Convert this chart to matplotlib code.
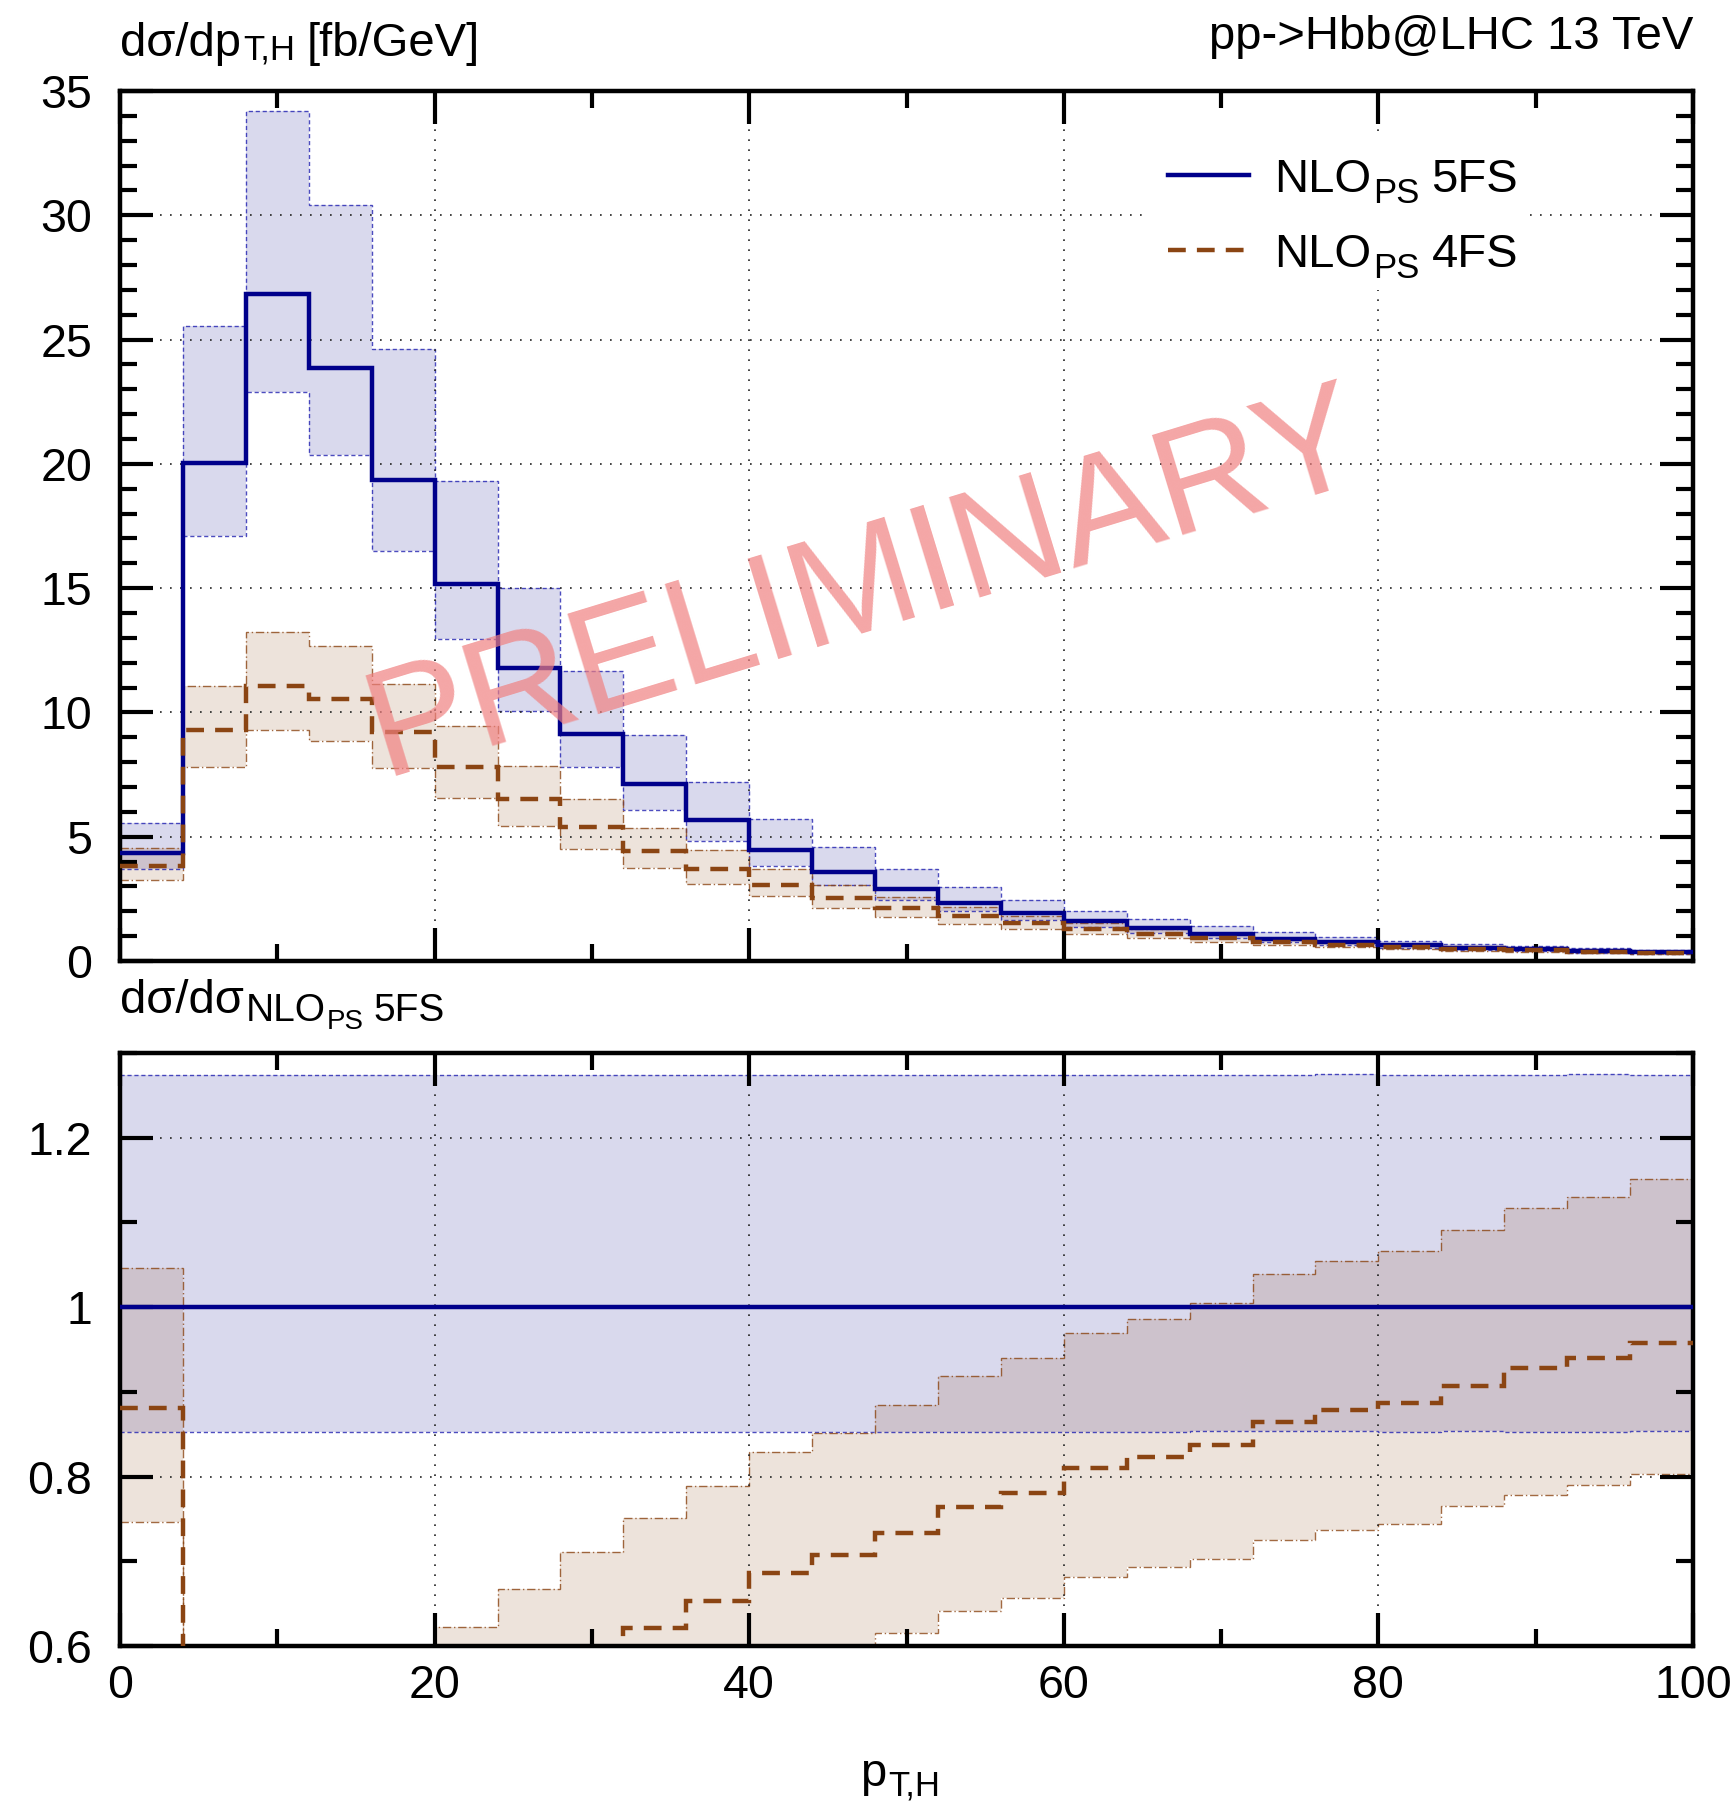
import numpy as np
import matplotlib

matplotlib.use("Agg")
import matplotlib.pyplot as plt
from matplotlib.patches import Rectangle
from matplotlib.ticker import MultipleLocator, FuncFormatter

plt.rcParams["font.family"] = ["Liberation Sans", "DejaVu Sans"]

# --- data ---
pt_edges = [0, 4, 8, 12, 16, 20, 24, 28, 32, 36, 40, 44, 48, 52, 56, 60,
            64, 68, 72, 76, 80, 84, 88, 92, 96, 100]

# NLO_PS 5FS: central, upper and lower scale-band edges [fb/GeV]
nlo5_c = [4.35, 20.04, 26.85, 23.86, 19.34, 15.17, 11.79, 9.15, 7.14, 5.66,
          4.48, 3.60, 2.89, 2.35, 1.94, 1.59, 1.32, 1.09, 0.90, 0.75,
          0.63, 0.54, 0.47, 0.40, 0.35]
nlo5_hi = [5.542, 25.531, 34.207, 30.398, 24.639, 19.327, 15.020, 11.657, 9.096, 7.211,
           5.708, 4.586, 3.682, 2.994, 2.472, 2.026, 1.682, 1.389, 1.147, 0.956,
           0.803, 0.688, 0.599, 0.510, 0.446]
nlo5_lo = [3.711, 17.094, 22.903, 20.353, 16.497, 12.940, 10.057, 7.805, 6.090, 4.828,
           3.821, 3.071, 2.465, 2.005, 1.655, 1.356, 1.126, 0.930, 0.768, 0.640,
           0.537, 0.461, 0.401, 0.341, 0.299]

# NLO_PS 4FS
nlo4_c = [3.832, 9.28, 11.07, 10.55, 9.21, 7.81, 6.51, 5.39, 4.434, 3.696,
          3.073, 2.545, 2.118, 1.795, 1.515, 1.289, 1.086, 0.912, 0.778, 0.659,
          0.559, 0.490, 0.436, 0.376, 0.335]
nlo4_hi = [4.550, 11.07, 13.23, 12.67, 11.13, 9.451, 7.864, 6.506, 5.362, 4.466,
           3.714, 3.064, 2.555, 2.160, 1.824, 1.542, 1.302, 1.095, 0.935, 0.791,
           0.672, 0.589, 0.525, 0.452, 0.403]
nlo4_lo = [3.249, 7.82, 9.28, 8.84, 7.75, 6.56, 5.44, 4.52, 3.73, 3.08,
           2.61, 2.113, 1.780, 1.506, 1.275, 1.084, 0.915, 0.766, 0.653, 0.553,
           0.469, 0.413, 0.366, 0.316, 0.281]

NAVY = "#00008b"
BROWN = "#8b4513"
FS = 34
SUB = 25
TICK_FS = 33.5
W, H = 1732, 1805
DASH = (0, (4, 2.5))

fig = plt.figure(figsize=(W / 100, H / 100), dpi=100)
renderer = fig.canvas.get_renderer()


def rich_text(x, y, parts, ha="left"):
    """parts: (text, size, drop_px, gap_px); x, y in image pixels, y = baseline from top."""
    items = []
    for s, size, drop, gap in parts:
        t = fig.text(0, 0, s, fontsize=size, va="baseline", ha="left")
        w = t.get_window_extent(renderer).width
        items.append((t, drop, gap, w))
    total = sum(gap + w for _, _, gap, w in items)
    x0 = {"left": x, "center": x - total / 2, "right": x - total}[ha]
    for t, drop, gap, w in items:
        x0 += gap
        t.set_position((x0 / W, 1 - (y + drop) / H))
        x0 += w


def style_axes(ax, ymajor, yminor):
    ax.xaxis.set_major_locator(MultipleLocator(20))
    ax.xaxis.set_minor_locator(MultipleLocator(10))
    ax.yaxis.set_major_locator(MultipleLocator(ymajor))
    ax.yaxis.set_minor_locator(MultipleLocator(yminor))
    ax.tick_params(which="both", direction="in", top=True, right=True,
                   width=3, labelsize=TICK_FS)
    ax.tick_params(which="major", length=24)
    ax.tick_params(which="minor", length=12)
    ax.tick_params(axis="y", pad=20)
    ax.tick_params(axis="x", pad=13)
    for sp in ax.spines.values():
        sp.set_linewidth(3.2)
    ax.grid(True, which="major", color="#222222", lw=1.2,
            linestyle=(0, (1, 5)), zorder=2)
    ax.yaxis.set_major_formatter(FuncFormatter(lambda v, p: f"{v:g}"))


def draw_set(ax, c5, hi5, lo5, c4, hi4, lo4):
    ax.stairs(hi5, pt_edges, baseline=lo5, fill=True, color=NAVY,
              alpha=0.15, lw=0, zorder=1)
    ax.stairs(hi4, pt_edges, baseline=lo4, fill=True, color=BROWN,
              alpha=0.15, lw=0, zorder=1.1)
    for v in (hi5, lo5):
        ax.stairs(v, pt_edges, baseline=None, color="#2020b0", lw=1.0,
                  linestyle=(0, (3, 2)), alpha=0.8, zorder=1.5)
    for v in (hi4, lo4):
        ax.stairs(v, pt_edges, baseline=None, color=BROWN, lw=1.0,
                  linestyle=(0, (6, 2, 1, 2)), alpha=0.8, zorder=1.5)
    ax.stairs(c5, pt_edges, baseline=None, color=NAVY, lw=3.2, zorder=4)
    ax.stairs(c4, pt_edges, baseline=None, color=BROWN, lw=3.2,
              linestyle=DASH, zorder=5)


AX_L, AX_R = 120, 1693
TOP_T, TOP_B = 91, 961
BOT_T, BOT_B = 1053, 1646
ax1 = fig.add_axes([AX_L / W, 1 - TOP_B / H, (AX_R - AX_L) / W, (TOP_B - TOP_T) / H])
ax2 = fig.add_axes([AX_L / W, 1 - BOT_B / H, (AX_R - AX_L) / W, (BOT_B - BOT_T) / H])

# main panel
draw_set(ax1, nlo5_c, nlo5_hi, nlo5_lo, nlo4_c, nlo4_hi, nlo4_lo)
ax1.set_xlim(0, 100)
ax1.set_ylim(0, 35)
style_axes(ax1, 5, 1)
ax1.tick_params(labelbottom=False)


# legend, laid out by hand on a white box
def ax1_frac(px, py):
    return (px - AX_L) / (AX_R - AX_L), (TOP_B - py) / (TOP_B - TOP_T)


bx0, by0 = ax1_frac(1142, 290)
bx1, by1 = ax1_frac(1530, 135)
ax1.add_patch(Rectangle((bx0, by0), bx1 - bx0, by1 - by0, transform=ax1.transAxes,
                        facecolor="white", edgecolor="none", zorder=3))
for row_y, color, ls, lab in [(175, NAVY, "-", "5FS"), (250, BROWN, DASH, "4FS")]:
    xa, ya = ax1_frac(1168, row_y)
    xb, _ = ax1_frac(1249, row_y)
    ax1.plot([xa, xb], [ya, ya], transform=ax1.transAxes, color=color, lw=3.2,
             linestyle=ls, zorder=6, clip_on=False)
    rich_text(1274, row_y + 17, [("NLO", FS, 0, 0), ("PS", SUB, 11, 2), (lab, FS, 0, 12)])

# watermark
ax1.text(47.4, 15.0, "PRELIMINARY", rotation=17, rotation_mode="anchor",
         ha="center", va="center", fontsize=110, color="#f08080", alpha=0.7,
         zorder=10)

# ratio panel
c5 = np.array(nlo5_c)
draw_set(ax2, c5 / c5, np.array(nlo5_hi) / c5, np.array(nlo5_lo) / c5,
         np.array(nlo4_c) / c5, np.array(nlo4_hi) / c5, np.array(nlo4_lo) / c5)
ax2.set_xlim(0, 100)
ax2.set_ylim(0.6, 1.3)
style_axes(ax2, 0.2, 0.1)

# labels
rich_text(AX_L, 56, [("dσ/dp", FS, 0, 0), ("T,H", SUB, 3, 2), ("[fb/GeV]", FS, 0, 12)])
rich_text(AX_R, 49, [("pp->Hbb@LHC 13 TeV", FS, 0, 0)], ha="right")
rich_text(AX_L, 1013, [("dσ/dσ", FS, 0, 0), ("NLO", 28, 8, 2), ("PS", 20, 16, 1),
                       ("5FS", 28, 8, 10)])
rich_text(900, 1786, [("p", FS, 0, 0), ("T,H", SUB, 9, 2)], ha="center")

fig.savefig("out.png", dpi=100, facecolor="white")
